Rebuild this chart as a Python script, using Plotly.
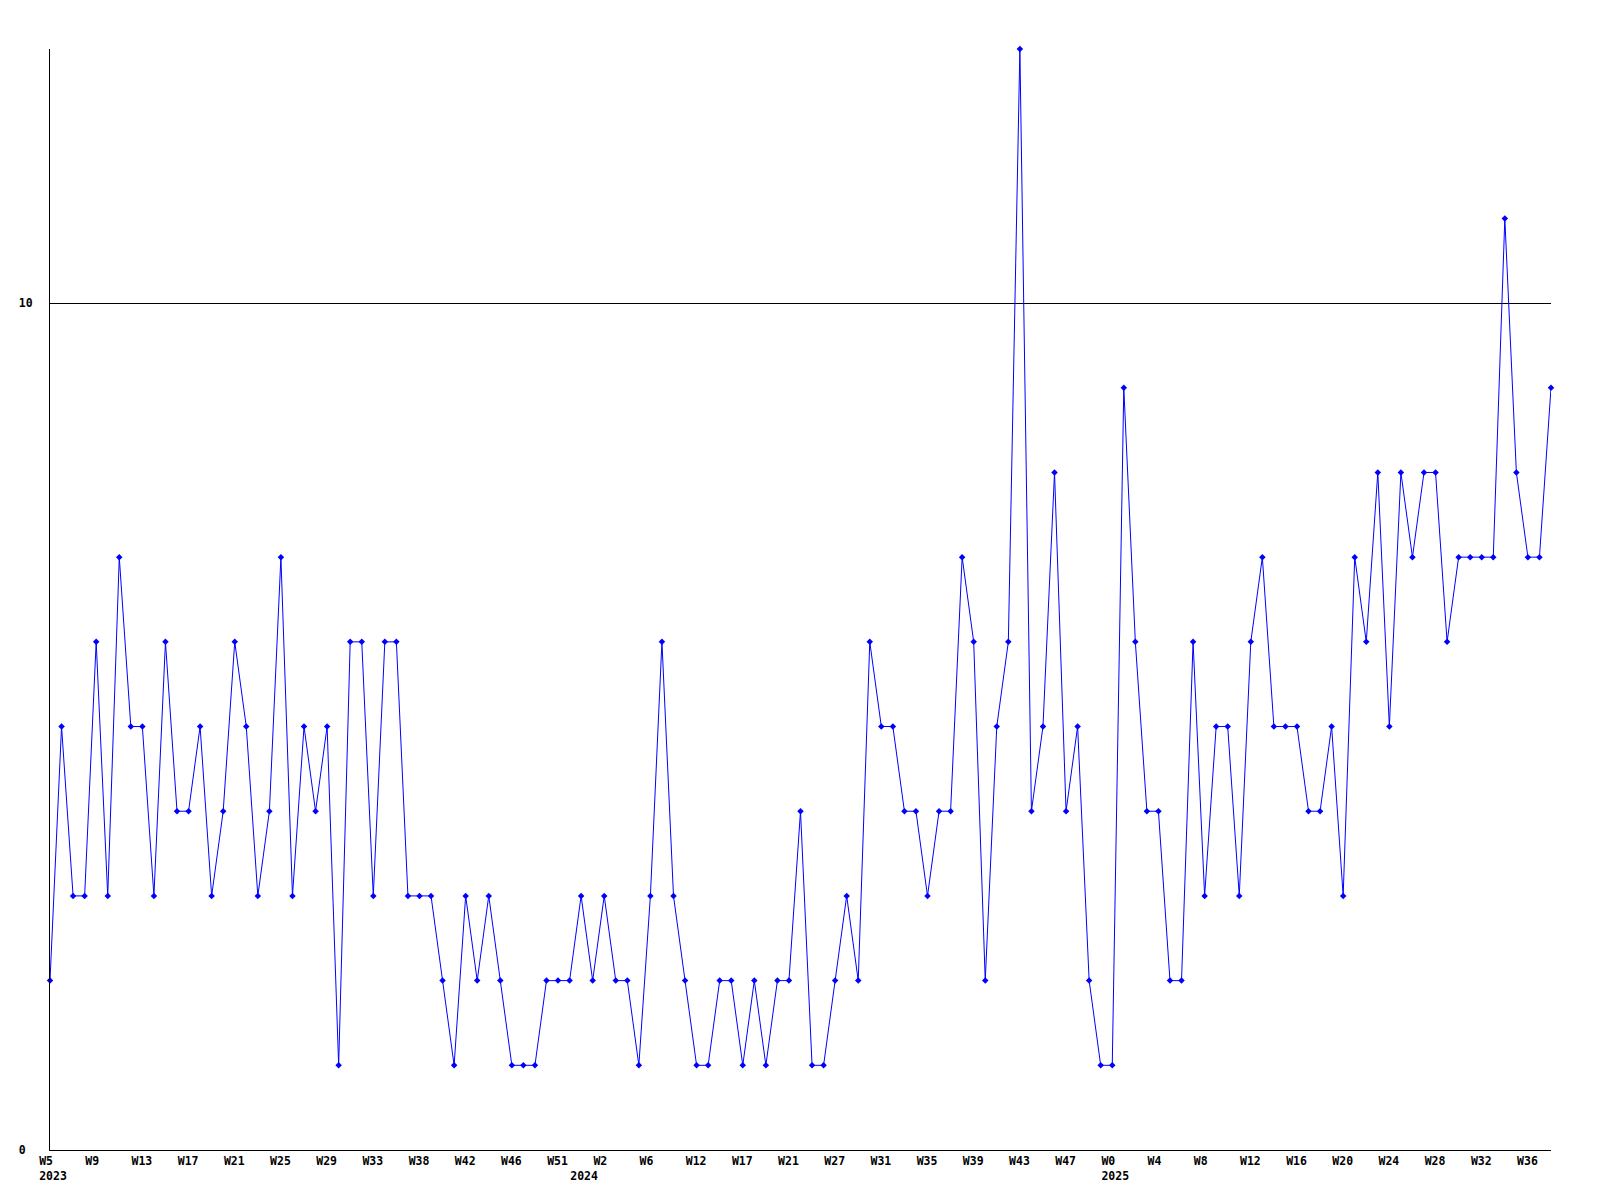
import plotly.graph_objects as go

# Weekly counts, oldest first (one point per week)
counts = [
    2, 5, 3, 3, 6, 3, 7, 5, 5, 3,
    6, 4, 4, 5, 3, 4, 6, 5, 3, 4,
    7, 3, 5, 4, 5, 1, 6, 6, 3, 6,
    6, 3, 3, 3, 2, 1, 3, 2, 3, 2,
    1, 1, 1, 2, 2, 2, 3, 2, 3, 2,
    2, 1, 3, 6, 3, 2, 1, 1, 2, 2,
    1, 2, 1, 2, 2, 4, 1, 1, 2, 3,
    2, 6, 5, 5, 4, 4, 3, 4, 4, 7,
    6, 2, 5, 6, 13, 4, 5, 8, 4, 5,
    2, 1, 1, 9, 6, 4, 4, 2, 2, 6,
    3, 5, 5, 3, 6, 7, 5, 5, 5, 4,
    4, 5, 3, 7, 6, 8, 5, 8, 7, 8,
    8, 6, 7, 7, 7, 7, 11, 8, 7, 7,
    9,
]

# Week labels, shown on every 4th point
week_labels = [
    "W5", "W9", "W13", "W17", "W21", "W25", "W29", "W33", "W38", "W42",
    "W46", "W51", "W2", "W6", "W12", "W17", "W21", "W27", "W31", "W35",
    "W39", "W43", "W47", "W0", "W4", "W8", "W12", "W16", "W20", "W24",
    "W28", "W32", "W36",
]
LABEL_STEP = 4

# Year captions and the point index where each year starts
years = ["2023", "2024", "2025"]
year_starts = [0, 46, 92]

y_ticks = [0, 10]

BLUE = "#0000ff"
FONT = dict(family="DejaVu Sans Mono, monospace", size=11.5, color="#000000")
NBSP = "\u00a0"


def pad(s, n=4):
    return s + NBSP * (n - len(s))


xs = list(range(len(counts)))

# tick labels: week on first line, year (if any) below
ticks = {}
for i, w in enumerate(week_labels):
    ticks[i * LABEL_STEP] = pad(w)
for y, start in zip(years, year_starts):
    top = ticks.get(start, NBSP * 4)
    ticks[start] = top + "<br>" + y
tick_vals = sorted(ticks)
tick_text = [ticks[v] for v in tick_vals]

fig = go.Figure(
    go.Scatter(
        x=xs,
        y=counts,
        mode="lines+markers",
        line=dict(color=BLUE, width=1),
        marker=dict(symbol="diamond", size=5, color=BLUE),
        cliponaxis=False,
        hoverinfo="skip",
    )
)

# page body has an 8px margin, so the figure is 8px smaller each way
fig.update_layout(
    width=1592,
    height=1192,
    paper_bgcolor="#ffffff",
    plot_bgcolor="#ffffff",
    font=FONT,
    showlegend=False,
    margin=dict(l=42, r=49, t=41, b=50, autoexpand=False),
    xaxis=dict(
        range=[0, len(counts) - 1],
        tickmode="array",
        tickvals=tick_vals,
        ticktext=tick_text,
        tickangle=0,
        ticks="",
        showgrid=False,
        zeroline=False,
        showline=True,
        linecolor="#000000",
        linewidth=1,
        ticklabelshift=3,
        ticklabelstandoff=0,
        tickfont=dict(FONT, weight="bold"),
    ),
    yaxis=dict(
        range=[0, 13],
        tickmode="array",
        tickvals=y_ticks,
        ticktext=[pad(str(v), 2) for v in y_ticks],
        ticks="",
        showgrid=True,
        gridcolor="#000000",
        gridwidth=1,
        zeroline=False,
        showline=True,
        linecolor="#000000",
        linewidth=1,
        ticklabelstandoff=14,
        tickfont=dict(FONT, weight="bold"),
    ),
)

fig.write_html("out.html")
